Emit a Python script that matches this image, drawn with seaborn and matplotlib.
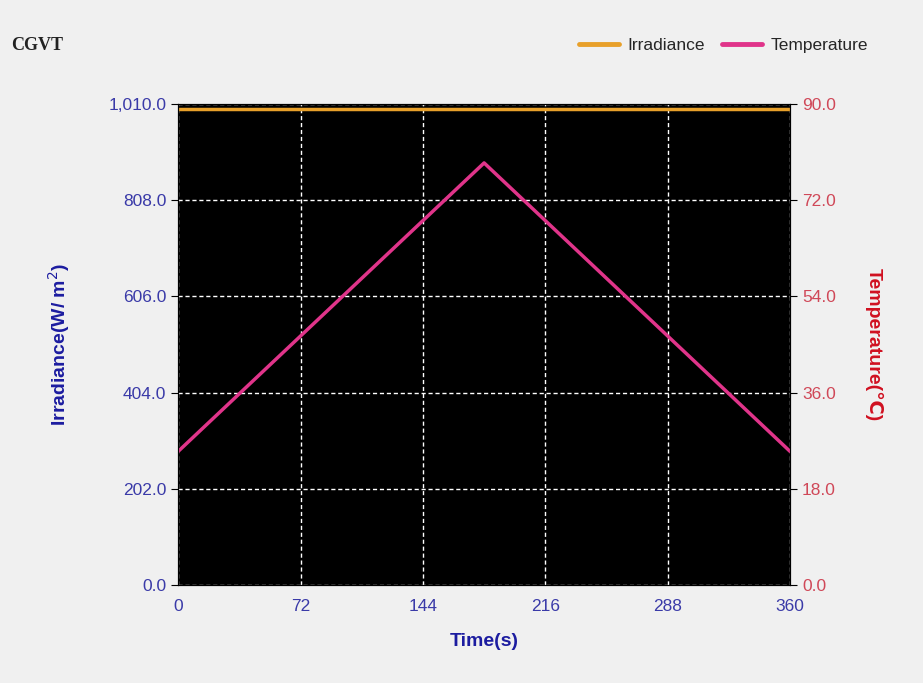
import numpy as np
import pandas as pd
import matplotlib
matplotlib.use("Agg")
import matplotlib.pyplot as plt
import seaborn as sns

# data
time_s = [0, 180, 360]
irradiance = [1000, 1000, 1000]
temperature = [25, 79, 25]

x_ticks = [0, 72, 144, 216, 288, 360]
irr_ticks = [0.0, 202.0, 404.0, 606.0, 808.0, 1010.0]
temp_ticks = [0.0, 18.0, 36.0, 54.0, 72.0, 90.0]

sns.set_style("white")
plt.rcParams['font.family'] = ['Liberation Sans', 'DejaVu Sans']

df = pd.DataFrame({'Time': time_s, 'Irradiance': irradiance, 'Temperature': temperature})

fig = plt.figure(figsize=(9.23, 6.83), dpi=100, facecolor='#f0f0f0')
ax = fig.add_axes([0.193, 0.1435, 0.663, 0.704])
ax.set_facecolor('black')
ax2 = ax.twinx()

irr_col = '#e8a02a'
temp_col = '#e0348a'

sns.lineplot(data=df, x='Time', y='Irradiance', ax=ax, color=irr_col, linewidth=2.5, label='Irradiance', legend=False)
sns.lineplot(data=df, x='Time', y='Temperature', ax=ax2, color=temp_col, linewidth=2.5, label='Temperature', legend=False)

ax.set_xlim(0, 360)
ax.set_ylim(0, 1010)
ax2.set_ylim(0, 90)
ax.set_xticks(x_ticks)
ax.set_yticks(irr_ticks)
ax2.set_yticks(temp_ticks)
ax.set_yticklabels([f"{v:,.1f}" for v in irr_ticks])
ax2.set_yticklabels([f"{v:.1f}" for v in temp_ticks])

ax.grid(True, color='white', linestyle=(0, (3, 2)), linewidth=1)
ax.set_axisbelow(True)

ax.tick_params(axis='x', colors='black', labelcolor='#3a3aa8', labelsize=12.5, direction='out', length=5, pad=5)
ax.tick_params(axis='y', colors='black', labelcolor='#3a3aa8', labelsize=12.5, direction='out', length=5)
ax2.tick_params(axis='y', colors='black', labelcolor='#d04858', labelsize=12.5, direction='out', length=5)

for sp in ax2.spines.values():
    sp.set_color('black')

ax.set_xlabel('Time(s)', color='#1c1ca0', fontsize=14, fontweight='bold', labelpad=14)
ax.set_ylabel('Irradiance(W/ m$^2$)', color='#1c1ca0', fontsize=14, fontweight='bold', labelpad=26)
ax2.set_ylabel('Temperature(\u2103)', color='#d01020', fontsize=14, fontweight='bold', rotation=270, labelpad=34)

fig.text(0.012, 0.934, 'CGVT', fontsize=13, fontweight='bold', family='Liberation Serif',
         color='#222222', va='center')

h1, l1 = ax.get_legend_handles_labels()
h2, l2 = ax2.get_legend_handles_labels()
leg = fig.legend(h1 + h2, l1 + l2, loc='upper right', bbox_to_anchor=(0.958, 0.967), ncol=2,
                 frameon=False, fontsize=12.5, handlelength=2.3, columnspacing=1.0, handletextpad=0.5)
for ln in leg.get_lines():
    ln.set_linewidth(3.5)

fig.savefig('out.png', dpi=100, facecolor=fig.get_facecolor())
